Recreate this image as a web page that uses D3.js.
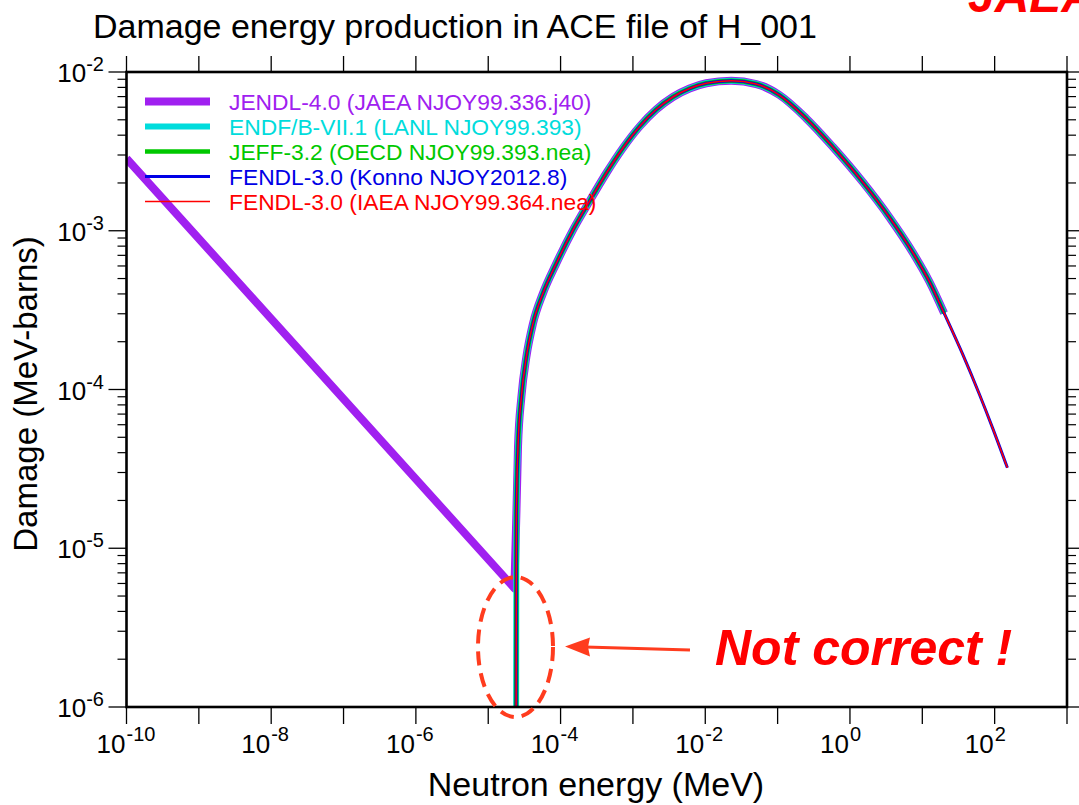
<!DOCTYPE html>
<html>
<head>
<meta charset="utf-8">
<title>Damage energy production in ACE file of H_001</title>
<style>
  body { margin: 0; background: #fff; }
  text { font-family: "Liberation Sans", Arial, Helvetica, sans-serif; }
</style>
</head>
<body>
<svg id="chart" width="1079" height="805"></svg>
<script src="https://cdnjs.cloudflare.com/ajax/libs/d3/7.8.5/d3.min.js"></script>
<script>
// shared energy grid (MeV) and damage (MeV-barns)
var energy = [2.40e-5, 2.451e-5, 2.58e-5, 2.875e-5, 3.37e-5, 4.16e-5, 5.71e-5, 8.75e-5,
  1.48e-4, 2.52e-4, 4.30e-4, 7.28e-4, 1.238e-3, 2.10e-3, 3.57e-3, 6.07e-3, 1.032e-2,
  2.286e-2, 5.06e-2, 0.106, 0.248, 0.578, 1.503, 3.51, 7.36, 12.5, 20, 36.1, 61.5, 93.8, 150];
var damage = [1e-8, 1.667e-5, 4.36e-5, 9.0e-5, 1.61e-4, 2.61e-4, 4.04e-4, 6.24e-4,
  1.01e-3, 1.539e-3, 2.311e-3, 3.321e-3, 4.536e-3, 5.804e-3, 6.958e-3, 7.87e-3, 8.49e-3,
  8.81e-3, 8.40e-3, 7.16e-3, 5.11e-3, 3.38e-3, 2.025e-3, 1.215e-3, 7.31e-4, 4.79e-4, 3.03e-4,
  1.669e-4, 9.33e-5, 5.71e-5, 3.21e-5];

// JENDL-4.0 has a 1/v part below threshold
var jendlLowE = [1e-10, 2.3e-5];
var jendlLowD = [2.85e-3, 5.6e-6];

var libNames = [
  'JENDL-4.0 (JAEA NJOY99.336.j40)',
  'ENDF/B-VII.1 (LANL NJOY99.393)',
  'JEFF-3.2 (OECD NJOY99.393.nea)',
  'FENDL-3.0 (Konno NJOY2012.8)',
  'FENDL-3.0 (IAEA NJOY99.364.nea)'
];
var libMaxE = [20, 20, 20, 150, 150];

var xTickExp = [-10, -9, -8, -7, -6, -5, -4, -3, -2, -1, 0, 1, 2, 3];
var xLabelExp = [-10, -8, -6, -4, -2, 0, 2];
var yTickExp = [-6, -5, -4, -3, -2];

// styles
var libColors = ['#a020f0', '#00dcdc', '#00c800', '#0000e6', '#ff0000'];
var libWidths = [8, 6, 4.5, 3, 1.5];

var svg = d3.select('#chart');
var pl = 126.5, pr = 1067, pt = 72, pb = 707;

var x = d3.scaleLog().domain([1e-10, 1e3]).range([pl, pr]);
var y = d3.scaleLog().domain([1e-6, 1e-2]).range([pb, pt]);

svg.append('rect').attr('width', 1079).attr('height', 805).attr('fill', '#fff');

svg.append('clipPath').attr('id', 'plot')
  .append('rect')
  .attr('x', pl).attr('y', pt)
  .attr('width', pr - pl).attr('height', pb - pt);

// title and JAEA mark
svg.append('text')
  .attr('x', 93).attr('y', 38)
  .attr('font-size', 34)
  .text('Damage energy production in ACE file of H_001');

svg.append('text')
  .attr('x', 968).attr('y', 12)
  .attr('font-size', 48)
  .attr('font-weight', 'bold')
  .attr('font-style', 'italic')
  .attr('fill', '#ff0000')
  .text('JAEA');

// curves
var pts = energy.map(function(e, i) { return [e, damage[i]]; });
var lineSmooth = d3.line()
  .x(function(d) { return x(d[0]); })
  .y(function(d) { return y(d[1]); })
  .curve(d3.curveMonotoneX);
var lineStraight = d3.line()
  .x(function(d) { return x(d[0]); })
  .y(function(d) { return y(d[1]); });

var curves = svg.append('g').attr('clip-path', 'url(#plot)');

libNames.forEach(function(name, i) {
  var data = pts.filter(function(d) { return d[0] <= libMaxE[i]; });
  if (i === 0) {
    data = data.slice(1);
    var low = jendlLowE.map(function(e, j) { return [e, jendlLowD[j]]; });
    low.push(data[0]);
    curves.append('path')
      .attr('d', lineStraight(low))
      .attr('fill', 'none')
      .attr('stroke', libColors[i])
      .attr('stroke-width', libWidths[i])
      .attr('stroke-linejoin', 'round');
  }
  curves.append('path')
    .attr('d', lineSmooth(data))
    .attr('fill', 'none')
    .attr('stroke', libColors[i])
    .attr('stroke-width', libWidths[i])
    .attr('stroke-linejoin', 'round');
});

// frame and ticks
var axes = svg.append('g').attr('stroke', '#000');

xTickExp.forEach(function(p) {
  var v = Math.pow(10, p);
  axes.append('line').attr('x1', x(v)).attr('x2', x(v))
    .attr('y1', pb).attr('y2', pb + 17).attr('stroke-width', 1.3);
  axes.append('line').attr('x1', x(v)).attr('x2', x(v))
    .attr('y1', pt).attr('y2', pt - 16).attr('stroke-width', 1.3);
});

yTickExp.forEach(function(p, k) {
  var v = Math.pow(10, p);
  axes.append('line').attr('x1', pl - 18).attr('x2', pl)
    .attr('y1', y(v)).attr('y2', y(v)).attr('stroke-width', 1.3);
  axes.append('line').attr('x1', pr).attr('x2', pr + 18)
    .attr('y1', y(v)).attr('y2', y(v)).attr('stroke-width', 1.3);
  if (k < yTickExp.length - 1) {
    d3.range(2, 10).forEach(function(m) {
      var mv = m * v;
      axes.append('line').attr('x1', pl - 9).attr('x2', pl)
        .attr('y1', y(mv)).attr('y2', y(mv)).attr('stroke-width', 1.2);
      axes.append('line').attr('x1', pr).attr('x2', pr + 9)
        .attr('y1', y(mv)).attr('y2', y(mv)).attr('stroke-width', 1.2);
    });
  }
});

axes.append('rect')
  .attr('x', pl).attr('y', pt)
  .attr('width', pr - pl).attr('height', pb - pt)
  .attr('fill', 'none').attr('stroke-width', 2.6);

// tick labels
xLabelExp.forEach(function(p) {
  var v = Math.pow(10, p);
  svg.append('text')
    .attr('x', x(v) - 1).attr('y', 753)
    .attr('text-anchor', 'end')
    .attr('font-size', 26)
    .text('10');
  svg.append('text')
    .attr('x', x(v)).attr('y', 741)
    .attr('font-size', 20)
    .text(String(p));
});

yTickExp.forEach(function(p) {
  var v = Math.pow(10, p);
  var t = svg.append('text')
    .attr('x', 104).attr('y', y(v) + 10)
    .attr('text-anchor', 'end')
    .attr('font-size', 26);
  t.append('tspan').text('10');
  t.append('tspan').attr('dy', -11).attr('font-size', 20).text(String(p));
});

// axis titles
svg.append('text')
  .attr('x', 596).attr('y', 796)
  .attr('text-anchor', 'middle')
  .attr('font-size', 34)
  .text('Neutron energy (MeV)');

svg.append('text')
  .attr('transform', 'translate(37,394) rotate(-90)')
  .attr('text-anchor', 'middle')
  .attr('font-size', 33)
  .text('Damage (MeV-barns)');

// legend
var legend = svg.append('g');
libNames.forEach(function(name, i) {
  var ly = 101.5 + i * 25;
  legend.append('line')
    .attr('x1', 145).attr('x2', 210)
    .attr('y1', ly).attr('y2', ly)
    .attr('stroke', libColors[i])
    .attr('stroke-width', libWidths[i]);
  legend.append('text')
    .attr('x', 229).attr('y', ly + 8)
    .attr('font-size', 22.8)
    .attr('fill', libColors[i])
    .text(name);
});

// annotation
var note = svg.append('g');
note.append('ellipse')
  .attr('cx', 515.5).attr('cy', 647)
  .attr('rx', 37.5).attr('ry', 70)
  .attr('fill', 'none')
  .attr('stroke', '#ff3c1e')
  .attr('stroke-width', 4)
  .attr('stroke-dasharray', '14 8');
note.append('line')
  .attr('x1', 690).attr('y1', 650)
  .attr('x2', 585).attr('y2', 647)
  .attr('stroke', '#ff3c1e')
  .attr('stroke-width', 3);
note.append('path')
  .attr('d', 'M565,646.5 L590,637.5 L588,647 L590,656.5 Z')
  .attr('fill', '#ff3c1e');
note.append('text')
  .attr('x', 715).attr('y', 665)
  .attr('font-size', 50)
  .attr('font-weight', 'bold')
  .attr('font-style', 'italic')
  .attr('fill', '#ff0000')
  .text('Not correct !');
</script>
</body>
</html>
